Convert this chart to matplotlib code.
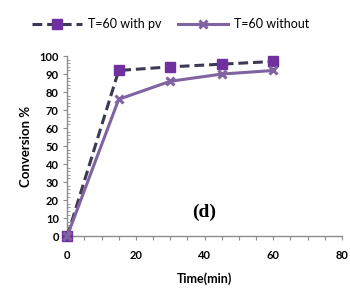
import numpy as np
import matplotlib.pyplot as plt
from matplotlib.ticker import MultipleLocator

# data
time_min = [0, 15, 30, 45, 60]
conv_with_pv = [0, 92, 94, 95.5, 97]
conv_without = [0, 76, 86, 90, 92]

LABEL_PV = 'T=60 with pv'
LABEL_WITHOUT = 'T=60 without'
X_LABEL = 'Time(min)'
Y_LABEL = 'Conversion %'
PANEL = '(d)'

AXIS_GREY = '#8c8c8c'
DASH_COLOR = '#3b3a52'
SQUARE_COLOR = '#7030a0'
LINE_COLOR = '#8064a2'

plt.rcParams['font.family'] = ['Lato', 'DejaVu Sans']

fig = plt.figure(figsize=(3.5, 2.89), dpi=100)
ax = fig.add_axes([0.192, 0.183, 0.785, 0.623])

ax.plot(time_min, conv_with_pv, linestyle=(0, (3.2, 1.6)), color=DASH_COLOR,
        linewidth=2.2, marker='s', markersize=7, markerfacecolor=SQUARE_COLOR,
        markeredgecolor=SQUARE_COLOR, label=LABEL_PV, clip_on=False, zorder=3)
ax.plot(time_min, conv_without, linestyle='-', color=LINE_COLOR,
        linewidth=2.2, marker='x', markersize=6, markeredgewidth=2.2,
        label=LABEL_WITHOUT, clip_on=False, zorder=4)

ax.set_xlim(0, 80)
ax.set_ylim(0, 100)
ax.xaxis.set_major_locator(MultipleLocator(20))
ax.xaxis.set_minor_locator(MultipleLocator(5))
ax.yaxis.set_major_locator(MultipleLocator(10))
ax.yaxis.set_minor_locator(MultipleLocator(2))

for side in ['top', 'right']:
    ax.spines[side].set_visible(False)
for side in ['left', 'bottom']:
    ax.spines[side].set_color(AXIS_GREY)
    ax.spines[side].set_linewidth(1.0)

ax.tick_params(axis='both', which='major', labelsize=8, color=AXIS_GREY,
               length=3, width=0.8, direction='out')
ax.tick_params(axis='x', which='major', pad=7)
ax.tick_params(axis='y', which='major', pad=3)
ax.tick_params(axis='y', which='minor', color=AXIS_GREY, length=2.5,
               width=0.6, direction='in')
ax.tick_params(axis='x', which='minor', color=AXIS_GREY, length=3,
               width=0.8, direction='out')
for lab in ax.get_xticklabels() + ax.get_yticklabels():
    lab.set_fontweight('bold')

ax.set_xlabel(X_LABEL, fontsize=9, fontweight='bold', labelpad=8)
ax.set_ylabel(Y_LABEL, fontsize=9.5, fontweight='bold', labelpad=5)

ax.text(39.8, 13, PANEL, fontsize=14, fontweight='bold',
        family='Liberation Serif', ha='center', va='center')

fig.legend(loc='upper left', bbox_to_anchor=(0.06, 0.975), ncol=2,
           frameon=False, handlelength=4.0, columnspacing=1.3,
           handletextpad=0.5, prop={'size': 9})

fig.savefig('out.png', dpi=100)
